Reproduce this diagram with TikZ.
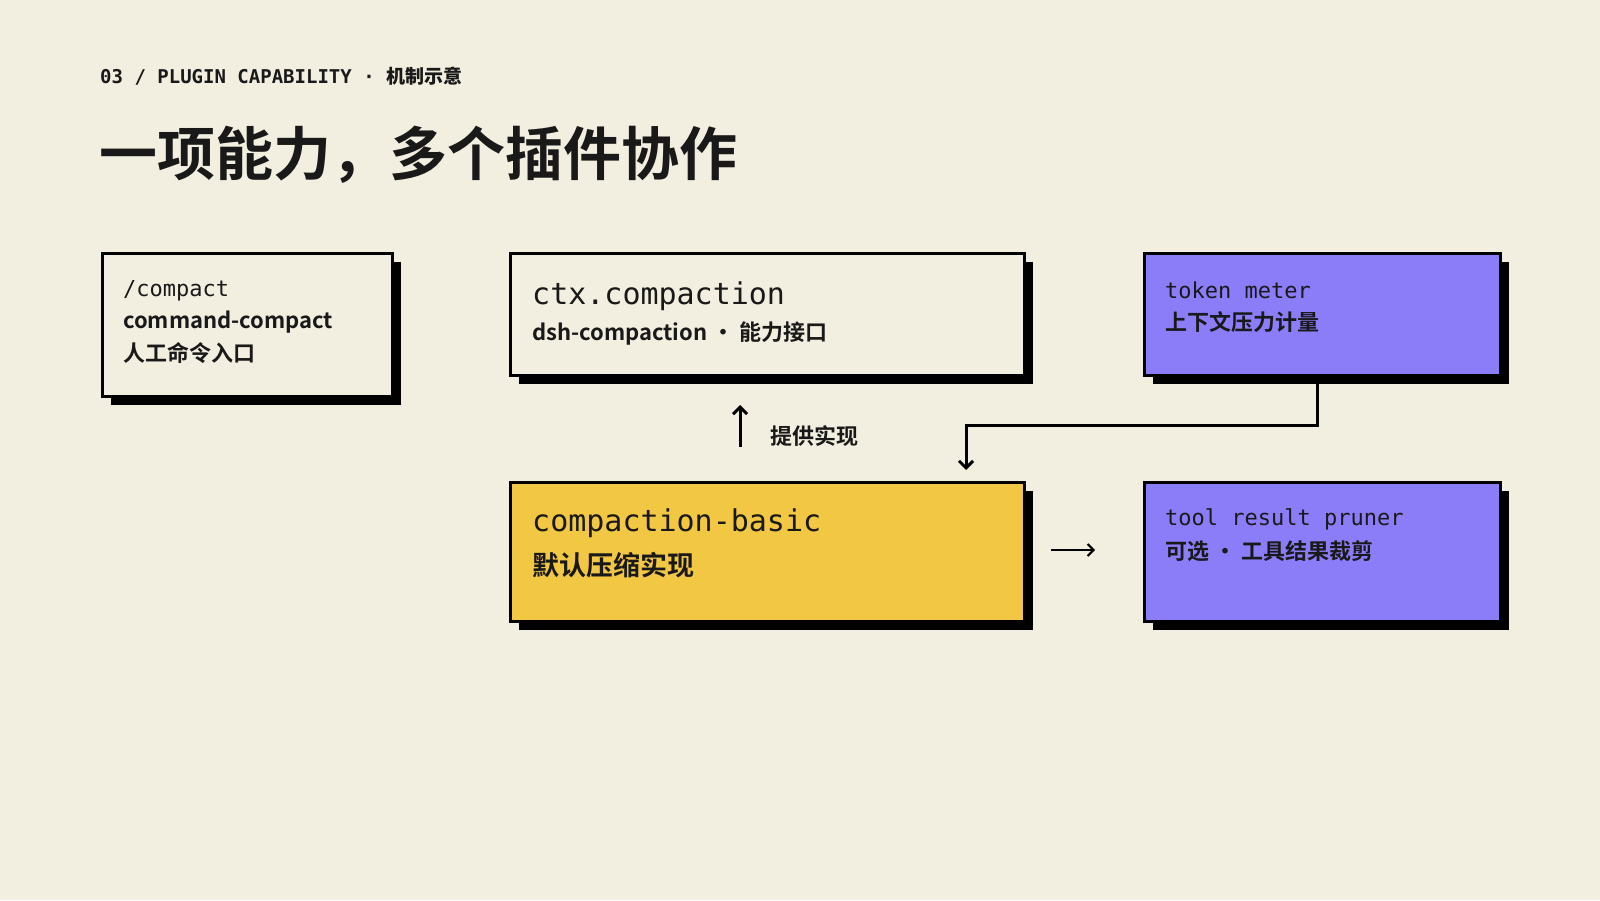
\documentclass[tikz,border=0pt]{standalone}
\usepackage{fontspec}
\setmainfont{Noto Sans CJK SC}[BoldFont={Noto Sans CJK SC Bold}]
\newfontfamily\cjk{Noto Sans CJK SC Bold}
\newfontfamily\monof{DejaVu Sans Mono}
\usetikzlibrary{shadows,arrows.meta}
\definecolor{bg}{HTML}{F2EEE0}
\definecolor{ylw}{HTML}{F2C744}
\definecolor{prp}{HTML}{8B7CF8}
\begin{document}
\begin{tikzpicture}[x=1pt,y=-1pt,
  box/.style={draw=black,line width=3pt,anchor=north west,inner sep=0pt,
    drop shadow={shadow xshift=8pt,shadow yshift=-8pt,opacity=1,fill=black}},
  lbl/.style={anchor=west,inner sep=0pt,text=black!90},
  mono/.style={font=\monof\fontsize{#1}{#1}\selectfont},
  cj/.style={font=\cjk\fontsize{#1}{#1}\selectfont},
  arr/.style={line width=3pt,-{Straight Barb[length=7pt,width=14pt,line width=3pt]}}]
\useasboundingbox[fill=bg] (0,0) rectangle (1600,900);
\node[lbl,font=\monof\fontsize{19}{19}\selectfont\bfseries] (hdr) at (100,76) {03 / PLUGIN CAPABILITY · {\cjk 机制示意}};
\node[lbl,cj=58] (title) at (99,155) {一项能力，多个插件协作};

\node[box,fill=bg,minimum width=290pt,minimum height=143pt] (b1) at (101,252) {};
\node[lbl,mono=22] (b1a) at (123,291) {/compact};
\node[lbl,cj=22] (b1b) at (123,322) {command-compact};
\node[lbl,cj=22] (b1c) at (123,353) {人工命令入口};

\node[box,fill=bg,minimum width=514pt,minimum height=122pt] (b2) at (509,252) {};
\node[lbl,mono=30] (b2a) at (532,296) {ctx.compaction};
\node[lbl,cj=22] (b2b) at (532,333) {dsh-compaction · 能力接口};

\node[box,fill=prp,minimum width=356pt,minimum height=122pt] (b3) at (1143,252) {};
\node[lbl,mono=22] (b3a) at (1165,290) {token meter};
\node[lbl,cj=22] (b3b) at (1165,322) {上下文压力计量};

\node[box,fill=ylw,minimum width=514pt,minimum height=139pt] (b4) at (509,481) {};
\node[lbl,mono=30] (b4a) at (532,523) {compaction-basic};
\node[lbl,cj=27] (b4b) at (532,565) {默认压缩实现};

\node[box,fill=prp,minimum width=356pt,minimum height=139pt] (b5) at (1143,481) {};
\node[lbl,mono=22] (b5a) at (1165,519) {tool result pruner};
\node[lbl,cj=22] (b5b) at (1165,551) {可选 · 工具结果裁剪};

\coordinate (u0) at (740,447);
\coordinate (u1) at (740,405);
\draw[arr] (u0) -- (u1);
\node[lbl,cj=22] (impl) at (770,436) {提供实现};

\coordinate (t0) at (1317,376);
\coordinate (t2) at (966,470);
\draw[arr] (t0) |- (966,425) -- (t2);

\coordinate (r0) at (1051,550);
\coordinate (r1) at (1095,550);
\draw[line width=2pt,-{Straight Barb[length=6pt,width=12pt,line width=2pt]}] (r0) -- (r1);
\end{tikzpicture}
\end{document}
